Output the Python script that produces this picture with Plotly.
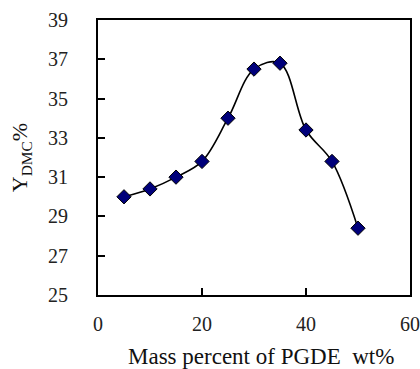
import plotly.graph_objects as go

mass_pct = [5, 10, 15, 20, 25, 30, 35, 40, 45, 50]
yield_dmc = [30.0, 30.4, 31.0, 31.8, 34.0, 36.5, 36.8, 33.4, 31.8, 28.4]
x_ticks = [0, 20, 40, 60]
y_ticks = [25, 27, 29, 31, 33, 35, 37, 39]

fig = go.Figure()
fig.add_trace(go.Scatter(
    x=mass_pct, y=yield_dmc, mode="lines+markers",
    line=dict(color="black", width=1.6, shape="spline", smoothing=1.0),
    marker=dict(symbol="diamond", size=11, color="#00007a",
                line=dict(color="black", width=1)),
    showlegend=False,
))

font = "Liberation Serif, Times New Roman, serif"
fig.update_layout(
    width=420, height=369,
    margin=dict(l=98, r=10, t=20, b=74),
    paper_bgcolor="white", plot_bgcolor="white",
    font=dict(family=font, color="#222", size=20),
    annotations=[dict(
        text="Mass percent of PGDE\u00a0\u00a0wt%", xref="paper", yref="paper",
        x=0.522, y=-0.222, xanchor="center", yanchor="middle", showarrow=False,
        font=dict(size=23, color="#111"),
    )],
)
fig.update_xaxes(
    range=[0, 60], tickvals=x_ticks, ticks="inside", ticklen=7, tickwidth=1.5,
    tickcolor="black", showline=True, linecolor="black", linewidth=2, mirror=True,
    showgrid=False, zeroline=False, ticklabelstandoff=10, automargin=False,
)
fig.update_yaxes(
    range=[25, 39], tickvals=y_ticks, ticks="inside", ticklen=7, tickwidth=1.5,
    tickcolor="black", showline=True, linecolor="black", linewidth=2, mirror=True,
    showgrid=False, zeroline=False, ticklabelstandoff=24, automargin=False,
    title=dict(text="Y<sub>DMC</sub>%", font=dict(size=22, color="#111"), standoff=14),
)
fig.write_html("out.html")
